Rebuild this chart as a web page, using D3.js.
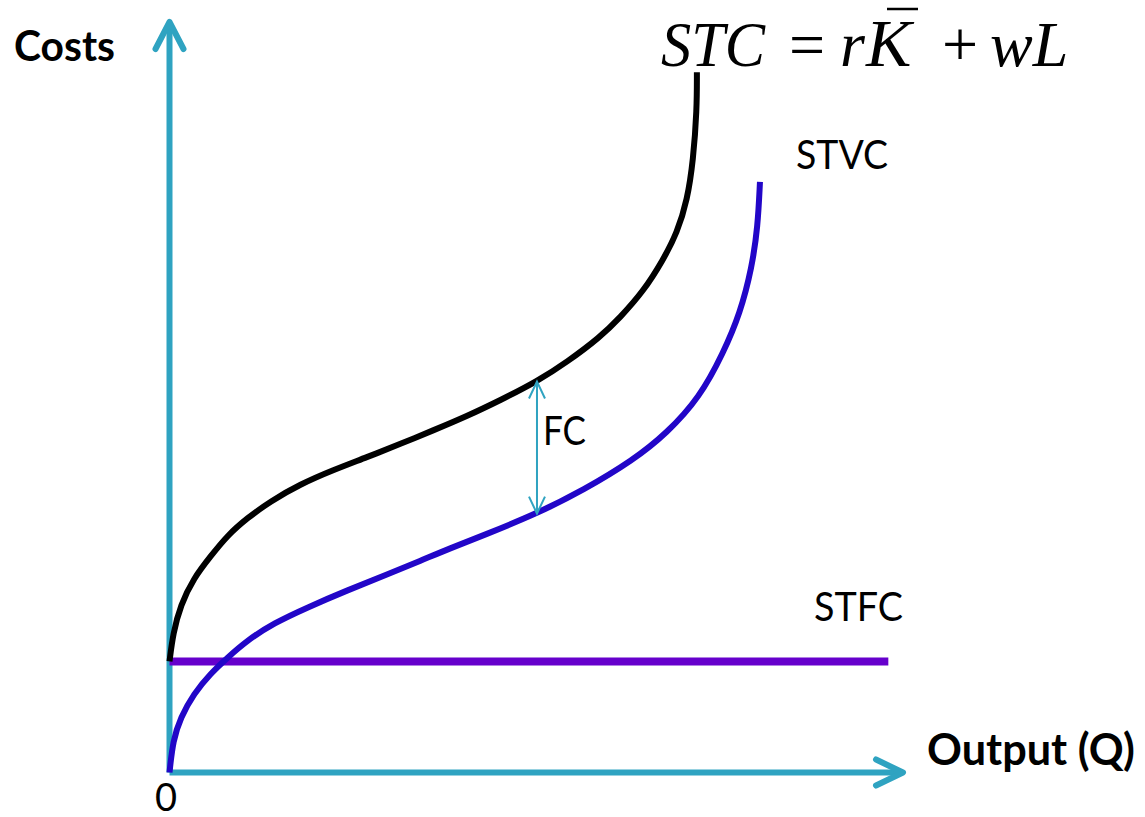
<!DOCTYPE html>
<html><head><meta charset="utf-8">
<script src="https://cdn.jsdelivr.net/npm/d3@7"></script>
<style>html,body{margin:0;padding:0;background:#fff;}svg{display:block;}</style>
</head><body>
<script>
// ---- data (output Q, cost) ----
const stcQ   = [0, 0.48, 1.5, 3.3, 5.6, 7.9, 10.6, 13.7, 17.8, 22.3, 26.9, 31.5, 36.0, 40.6, 45.1, 50.1, 54.2, 58.7, 61.4, 64.6, 67.3, 69.2, 70.6, 71.4, 71.9, 71.9];
const stcC   = [14.8, 18.5, 22.3, 25.9, 28.8, 31.6, 33.9, 36.1, 38.4, 40.3, 42.0, 43.8, 45.6, 47.5, 49.6, 52.1, 54.7, 58.0, 60.6, 64.1, 68.3, 71.9, 76.3, 81.6, 88.3, 93.3];
const stvcQ  = [0, 0.48, 1.5, 3.3, 5.6, 7.9, 10.6, 14.2, 18.8, 24.3, 29.7, 34.2, 38.3, 42.8, 50.1, 56.4, 63.2, 67.8, 72.3, 75.5, 77.8, 79.4, 80.2, 80.5];
const stvcC  = [0, 4.3, 7.3, 10.5, 13.2, 15.3, 17.6, 19.9, 22.0, 24.3, 26.4, 28.2, 29.9, 31.6, 34.5, 37.6, 41.6, 45.2, 50.0, 55.9, 61.2, 67.3, 72.7, 78.7];
const stfcQ  = [0, 98.0];
const stfcC  = [14.8, 14.8];
const fcQ    = 50.1;
const fcLow  = 34.5;
const fcHigh = 52.1;
const axisMax = [100, 100];
const labels = {y: "Costs", x: "Output (Q)", origin: "0", stvc: "STVC", stfc: "STFC", fc: "FC"};

const W = 1145, H = 817;
const svg = d3.select("body").append("svg").attr("width", W).attr("height", H);

const x = d3.scaleLinear().domain([0, axisMax[0]]).range([169.5, 903]);
const y = d3.scaleLinear().domain([0, axisMax[1]]).range([772.5, 22]);

const axisColor = "#2fa3c1";
const line = d3.line().x(d => x(d[0])).y(d => y(d[1])).curve(d3.curveBasis);

// axes
svg.append("path").attr("d", `M${x(0)},${y(0)}V${y(axisMax[1])}`).attr("stroke", axisColor).attr("stroke-width", 6).attr("fill","none");
svg.append("path").attr("d", `M${x(0)-14},${y(axisMax[1])+27}L${x(0)},${y(axisMax[1])}L${x(0)+14},${y(axisMax[1])+27}`)
  .attr("stroke", axisColor).attr("stroke-width", 6).attr("fill","none").attr("stroke-linecap","round").attr("stroke-linejoin","round");
svg.append("path").attr("d", `M${x(0)},${y(0)}H${x(axisMax[0])}`).attr("stroke", axisColor).attr("stroke-width", 6).attr("fill","none");
svg.append("path").attr("d", `M${x(axisMax[0])-27},${y(0)-13}L${x(axisMax[0])},${y(0)}L${x(axisMax[0])-27},${y(0)+13}`)
  .attr("stroke", axisColor).attr("stroke-width", 6).attr("fill","none").attr("stroke-linecap","round").attr("stroke-linejoin","round");

// curves
svg.append("path").datum(stfcQ.map((q,i)=>[q, stfcC[i]])).attr("d", d3.line().x(d=>x(d[0])).y(d=>y(d[1])))
  .attr("stroke", "#6600cc").attr("stroke-width", 8).attr("fill","none");
svg.append("path").datum(stvcQ.map((q,i)=>[q, stvcC[i]])).attr("d", line)
  .attr("stroke", "#2206c8").attr("stroke-width", 6).attr("fill","none");
svg.append("path").datum(stcQ.map((q,i)=>[q, stcC[i]])).attr("d", line)
  .attr("stroke", "#000").attr("stroke-width", 6).attr("fill","none");

// FC double arrow
const fx = x(fcQ), fy1 = y(fcHigh), fy2 = y(fcLow);
svg.append("path").attr("d", `M${fx},${fy1}V${fy2}M${fx-8},${fy1+17}L${fx},${fy1}L${fx+8},${fy1+17}M${fx-8},${fy2-17}L${fx},${fy2}L${fx+8},${fy2-17}`)
  .attr("stroke", axisColor).attr("stroke-width", 2).attr("fill","none");

// text helper: cap-height sized, squeezed to the measured width
const sans = "Lato, 'Open Sans', sans-serif";
function label(txt, x0, base, width, size, weight) {
  return svg.append("text").attr("x", x0).attr("y", base).attr("font-family", sans)
    .attr("font-weight", weight || "normal").attr("font-size", size).attr("fill", "#000")
    .attr("textLength", width).attr("lengthAdjust", "spacingAndGlyphs").text(txt);
}
label(labels.y, 14, 61, 101, 42, "bold");
label(labels.x, 927, 765, 208, 44, "bold");
label(labels.stvc, 796, 169, 92, 41);
label(labels.stfc, 814, 621, 89, 41);
label(labels.fc, 543, 445, 43, 41);
svg.append("text").attr("x", 155).attr("y", 811).attr("font-family", sans).attr("font-size", 38).text(labels.origin);

// formula STC = rK̄ + wL
const serif = "'Liberation Serif', 'Times New Roman', serif";
const fs = 64, fb = 66;
const f = svg.append("g").attr("font-family", serif).attr("font-size", fs).attr("fill", "#000");
f.append("text").attr("x", 661).attr("y", fb).attr("font-style","italic").attr("textLength", 104).attr("lengthAdjust","spacingAndGlyphs").text("STC");
f.append("text").attr("x", 807).attr("y", fb).attr("text-anchor","middle").text("=");
f.append("text").attr("x", 840).attr("y", fb).attr("font-style","italic").text("r");
f.append("text").attr("x", 866).attr("y", fb).attr("font-style","italic").attr("font-size", 68).text("K");
f.append("text").attr("x", 960).attr("y", fb).attr("text-anchor","middle").text("+");
f.append("text").attr("x", 990).attr("y", fb).attr("font-style","italic").text("wL");
svg.append("line").attr("x1", 887).attr("x2", 918).attr("y1", 9).attr("y2", 9).attr("stroke","#000").attr("stroke-width", 2.5);
</script>
</body></html>
